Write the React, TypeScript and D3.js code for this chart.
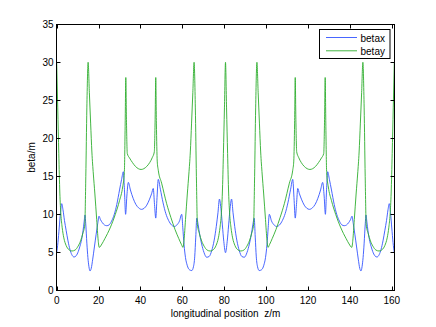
import React from 'react';
import * as d3 from 'd3';

const W = 436;
const H = 327;

const xTicks = [0, 20, 40, 60, 80, 100, 120, 140, 160];
const yTicks = [0, 5, 10, 15, 20, 25, 30, 35];
const xLabel = 'longitudinal position  z/m';
const yLabel = 'beta/m';
const seriesNames = ['betax', 'betay'];
const seriesColors = ['#3355ff', '#2eae2e'];

// betax: longitudinal position (m) and value (m)
const betaxPos = [
  0.0, 0.6, 1.2, 1.8, 2.4, 3.0, 3.7, 4.5, 5.4, 6.3, 7.2, 8.3, 9.3, 10.3, 11.1, 11.9, 12.6, 13.1, 13.5, 13.9,
  14.4, 14.9, 15.4, 15.9, 16.5, 17.2, 18.0, 18.8, 19.6, 20.2, 20.9, 21.8, 22.8, 23.9, 25.0, 26.2, 27.5, 28.7, 30.0, 31.0,
  31.8, 32.3, 32.9, 33.5, 34.2, 35.2, 36.5, 37.8, 39.1, 40.5, 41.8, 43.0, 44.2, 45.3, 46.1, 46.7, 47.3, 47.9, 48.5, 49.5,
  50.8, 52.1, 53.4, 54.8, 56.2, 57.4, 58.6, 59.7, 60.2, 60.8, 61.5, 62.3, 63.4, 64.5, 65.3, 65.9, 66.4, 66.9, 67.5, 68.3,
  69.2, 70.3, 71.6, 72.8, 74.0, 75.2, 76.2, 77.0, 77.7, 78.4, 79.1, 79.8, 80.6,
  81.4, 82.1, 82.8, 83.5, 84.2, 85.0, 86.0, 87.2, 88.4, 89.6, 90.9, 92.0, 92.9, 93.7, 94.3, 94.8, 95.3, 95.9, 96.7, 97.8,
  98.9, 99.7, 100.4, 101.0, 101.5, 102.6, 103.8, 105.0, 106.4, 107.8, 109.1, 110.4, 111.7, 112.7, 113.3, 113.9, 114.5, 115.1, 115.9, 117.0,
  118.2, 119.4, 120.7, 122.1, 123.4, 124.7, 126.0, 127.0, 127.7, 128.3, 128.9, 129.4, 130.2, 131.2, 132.5, 133.7, 135.0, 136.2, 137.3, 138.4,
  139.4, 140.3, 141.0, 141.6, 142.4, 143.2, 144.0, 144.7, 145.3, 145.8, 146.3, 146.8, 147.3, 147.7, 148.1, 148.6, 149.3, 150.1, 150.9, 151.9,
  152.9, 154.0, 154.9, 155.8, 156.7, 157.5, 158.2, 158.8, 159.4, 160.0, 160.6, 161.2,
];
const betaxVal = [
  4.9, 6.3, 8.2, 10.2, 11.4, 10.6, 9.2, 7.9, 6.5, 5.4, 4.7, 4.38, 4.55, 5.1, 5.8, 6.7, 7.9, 9.0, 9.9, 8.6,
  6.2, 4.3, 3.1, 2.55, 2.9, 4.1, 5.7, 7.3, 8.8, 9.75, 9.3, 8.9, 8.6, 8.5, 8.6, 9.1, 10.0, 11.3, 13.2, 14.6,
  15.6, 13.5, 10.0, 12.4, 14.2, 13.2, 12.1, 11.3, 10.85, 10.65, 10.8, 11.2, 11.9, 12.7, 13.4, 11.3, 9.5, 12.2, 14.6, 13.3,
  11.5, 10.1, 9.2, 8.6, 8.4, 8.6, 9.1, 10.0, 8.3, 6.0, 4.3, 3.3, 2.7, 2.6, 3.1, 4.4, 7.0, 9.5, 8.7, 7.3,
  6.1, 5.0, 4.35, 4.45, 5.2, 6.6, 8.4, 10.2, 12.0, 10.8, 8.6, 6.4, 4.95,
  6.4, 8.6, 10.8, 12.0, 10.2, 8.4, 6.6, 5.2, 4.45, 4.35, 5.0, 6.1, 7.3, 8.7, 9.5, 7.0, 4.4, 3.1, 2.6, 2.7,
  3.3, 4.3, 6.0, 8.3, 10.0, 9.1, 8.6, 8.4, 8.6, 9.2, 10.1, 11.5, 13.3, 14.6, 12.2, 9.5, 11.3, 13.4, 12.7, 11.9,
  11.2, 10.8, 10.65, 10.85, 11.3, 12.1, 13.2, 14.2, 12.4, 10.0, 13.5, 15.6, 14.6, 13.2, 11.3, 10.0, 9.1, 8.6, 8.5, 8.6,
  8.9, 9.3, 9.75, 8.8, 7.3, 5.7, 4.1, 2.9, 2.55, 3.1, 4.3, 6.2, 8.6, 9.9, 9.0, 7.9, 6.7, 5.8, 5.1, 4.55,
  4.38, 4.7, 5.4, 6.5, 7.9, 9.2, 10.6, 11.4, 10.2, 8.2, 6.3, 4.9,
];

// betay: longitudinal position (m) and value (m)
const betayPos = [
  0.0, 0.5, 1.0, 1.5, 2.0, 2.6, 3.4, 4.5, 5.8, 7.3, 8.8, 10.2, 11.4, 12.5, 13.4, 13.9, 14.4, 15.0, 15.6, 16.2,
  16.8, 17.5, 18.2, 19.1, 19.8, 20.3, 21.6, 23.0, 25.5, 28.0, 30.0, 31.5, 32.3, 32.7, 33.0, 33.3, 33.7, 34.8, 36.2, 37.6,
  39.0, 40.3, 41.6, 43.0, 44.4, 45.7, 46.6, 47.0, 47.3, 47.6, 48.0, 48.5, 50.1, 52.5, 54.5, 56.5, 58.3, 59.6, 60.3, 60.8,
  61.5, 62.4, 63.1, 63.8, 64.4, 65.0, 65.6, 66.2, 66.7, 67.2, 68.1, 69.2, 70.4, 71.8, 73.3, 74.8, 76.1, 77.2, 78.0, 78.6,
  79.1, 79.6, 80.1, 80.6,
  81.1, 81.6, 82.1, 82.6, 83.2, 84.0, 85.1, 86.4, 87.9, 89.4, 90.8, 92.0, 93.1, 94.0, 94.5, 95.0, 95.6, 96.2, 96.8, 97.4,
  98.1, 98.8, 99.7, 100.4, 100.9, 101.6, 102.9, 104.7, 106.7, 108.7, 111.1, 112.7, 113.2, 113.6, 113.9, 114.2, 114.6, 115.5, 116.8, 118.2,
  119.6, 120.9, 122.2, 123.6, 125.0, 126.4, 127.5, 127.9, 128.2, 128.5, 128.9, 129.7, 131.2, 133.2, 135.7, 138.2, 139.6, 140.9, 141.4, 142.1,
  143.0, 143.7, 144.4, 145.0, 145.6, 146.2, 146.8, 147.3, 147.8, 148.7, 149.8, 151.0, 152.4, 153.9, 155.4, 156.7, 157.8, 158.6, 159.2, 159.7,
  160.2, 160.7, 161.2,
];
const betayVal = [
  30.0, 24.0, 18.0, 12.8, 10.0, 8.3, 6.9, 5.9, 5.35, 5.17, 5.3, 5.8, 6.5, 7.5, 8.6, 15.0, 24.0, 30.0, 26.0, 22.0,
  18.2, 15.3, 12.8, 9.3, 6.6, 5.65, 6.1, 6.8, 8.2, 10.0, 11.8, 13.6, 15.5, 22.0, 28.0, 22.5, 18.0, 17.4, 16.8, 16.3,
  16.0, 15.9, 16.0, 16.3, 16.8, 17.5, 18.2, 22.5, 28.0, 22.0, 17.0, 15.8, 14.1, 11.4, 9.6, 8.0, 6.8, 6.0, 5.65, 6.6,
  9.3, 12.8, 15.3, 18.2, 22.0, 26.0, 30.0, 24.0, 15.0, 8.6, 7.5, 6.5, 5.8, 5.3, 5.17, 5.35, 5.9, 6.9, 8.3, 10.0,
  12.8, 18.0, 24.0, 30.0,
  24.0, 18.0, 12.8, 10.0, 8.3, 6.9, 5.9, 5.35, 5.17, 5.3, 5.8, 6.5, 7.5, 8.6, 15.0, 24.0, 30.0, 26.0, 22.0, 18.2,
  15.3, 12.8, 9.3, 6.6, 5.65, 6.0, 6.8, 8.0, 9.6, 11.4, 14.1, 15.8, 17.0, 22.0, 28.0, 22.5, 18.2, 17.5, 16.8, 16.3,
  16.0, 15.9, 16.0, 16.3, 16.8, 17.4, 18.0, 22.5, 28.0, 22.0, 15.5, 13.6, 11.8, 10.0, 8.2, 6.8, 6.1, 5.65, 6.6, 9.3,
  12.8, 15.3, 18.2, 22.0, 26.0, 30.0, 24.0, 15.0, 8.6, 7.5, 6.5, 5.8, 5.3, 5.17, 5.35, 5.9, 6.9, 8.3, 10.0, 12.8,
  18.0, 24.0, 30.0,
];

const FONT = '"Liberation Sans", Arial, Helvetica, sans-serif';

export default function App() {
  const x = d3.scaleLinear().domain([0, 161.2]).range([56.7, 394.3]);
  const y = d3.scaleLinear().domain([0, 35]).range([290.3, 24.3]);

  const line = d3
    .line<[number, number]>()
    .x((d) => x(d[0]))
    .y((d) => y(d[1]))
    .curve(d3.curveMonotoneX);

  const bx: [number, number][] = betaxPos.map((s, i) => [s, betaxVal[i]]);
  const by: [number, number][] = betayPos.map((s, i) => [s, betayVal[i]]);

  const left = 56.5;
  const right = 394.5;
  const top = 24.5;
  const bottom = 290.5;
  const tickLen = 4;

  return (
    <svg
      width={W}
      height={H}
      style={{ position: 'absolute', left: 0, top: 0, background: '#fff' }}
      fontFamily={FONT}
    >
      <rect x={0} y={0} width={W} height={H} fill="#fff" />
      <defs>
        <clipPath id="plotclip">
          <rect x={left} y={top} width={right - left} height={bottom - top} />
        </clipPath>
      </defs>
      <g clipPath="url(#plotclip)">
        <path d={line(bx) || ''} fill="none" stroke={seriesColors[0]} strokeWidth={0.9} />
        <path d={line(by) || ''} fill="none" stroke={seriesColors[1]} strokeWidth={0.9} />
      </g>
      {/* axes box */}
      <rect x={left} y={top} width={right - left} height={bottom - top} fill="none" stroke="#000" strokeWidth={1} />
      {xTicks.map((t) => {
        const px = Math.round(x(t)) + 0.5;
        return (
          <g key={'xt' + t}>
            <line x1={px} x2={px} y1={bottom} y2={bottom - tickLen} stroke="#000" />
            <line x1={px} x2={px} y1={top} y2={top + tickLen} stroke="#000" />
            <text x={x(t)} y={303.5} fontSize={10} textAnchor="middle" fill="#000">
              {t}
            </text>
          </g>
        );
      })}
      {yTicks.map((t) => {
        const py = Math.round(y(t)) + 0.5;
        return (
          <g key={'yt' + t}>
            <line x1={left} x2={left + tickLen} y1={py} y2={py} stroke="#000" />
            <line x1={right} x2={right - tickLen} y1={py} y2={py} stroke="#000" />
            <text x={53.5} y={y(t) + 3.6} fontSize={10} textAnchor="end" fill="#000">
              {t}
            </text>
          </g>
        );
      })}
      <text x={(left + right) / 2} y={316.5} fontSize={10} textAnchor="middle" fill="#000" style={{ whiteSpace: 'pre' }}>
        {xLabel}
      </text>
      <text
        transform={`translate(35.3, ${(top + bottom) / 2}) rotate(-90)`}
        fontSize={10}
        textAnchor="middle"
        fill="#000"
      >
        {yLabel}
      </text>
      {/* legend */}
      <rect x={319.5} y={29.5} width={70.5} height={29} fill="#fff" stroke="#000" strokeWidth={1} />
      {seriesNames.map((n, i) => {
        const ly = 37.5 + i * 13.3;
        return (
          <g key={n}>
            <line x1={326} x2={357} y1={ly} y2={ly} stroke={seriesColors[i]} strokeWidth={0.9} />
            <text x={360.5} y={ly + 4} fontSize={10} fill="#000">
              {n}
            </text>
          </g>
        );
      })}
    </svg>
  );
}
